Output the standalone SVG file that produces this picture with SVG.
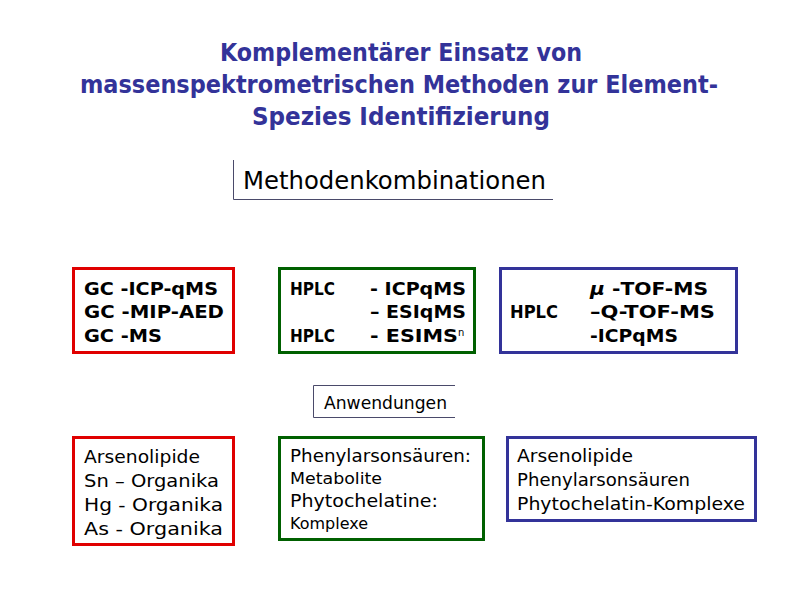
<svg xmlns="http://www.w3.org/2000/svg" width="800" height="598" viewBox="0 0 800 598">
<style>
text{font-family:"DejaVu Sans","Liberation Sans",sans-serif}
.title{fill:#333399;font-size:24px;font-weight:bold;text-anchor:middle}
.head{fill:#000;font-size:24px}
.b{fill:#000;font-size:18px;font-weight:bold}
.n{fill:#000;font-size:18px}
.s{fill:#000;font-size:15px}
.red{fill:#fff;stroke:#e00000;stroke-width:3}
.green{fill:#fff;stroke:#006000;stroke-width:3}
.blue{fill:#fff;stroke:#333399;stroke-width:3}
.frame{fill:none;stroke:#4a4a6a;stroke-width:1}
</style>
<rect width="800" height="598" fill="#fff"/>
<g id="title">
<text class="title" x="401" y="61" textLength="362" lengthAdjust="spacingAndGlyphs">Komplementärer Einsatz von</text>
<text class="title" x="399" y="93" textLength="638" lengthAdjust="spacingAndGlyphs">massenspektrometrischen Methoden zur Element-</text>
<text class="title" x="401" y="125" textLength="298" lengthAdjust="spacingAndGlyphs">Spezies Identifizierung</text>
</g>
<g id="methodenkombinationen">
<path class="frame" d="M233.5 160 V199.5 H553"/>
<text class="head" x="243" y="189" textLength="303" lengthAdjust="spacingAndGlyphs">Methodenkombinationen</text>
</g>
<g id="gc-box">
<rect class="red" x="73.5" y="268.5" width="160" height="84"/>
<text class="b" x="84" y="295" textLength="134" lengthAdjust="spacingAndGlyphs">GC -ICP-qMS</text>
<text class="b" x="84" y="318" textLength="140" lengthAdjust="spacingAndGlyphs">GC -MIP-AED</text>
<text class="b" x="84" y="342" textLength="78" lengthAdjust="spacingAndGlyphs">GC -MS</text>
</g>
<g id="hplc-box">
<rect class="green" x="279.5" y="268.5" width="195" height="84"/>
<text class="b" x="290" y="295" textLength="45" lengthAdjust="spacingAndGlyphs">HPLC</text>
<text class="b" x="370" y="295" textLength="96" lengthAdjust="spacingAndGlyphs">- ICPqMS</text>
<text class="b" x="370" y="318" textLength="96" lengthAdjust="spacingAndGlyphs">– ESIqMS</text>
<text class="b" x="290" y="342" textLength="45" lengthAdjust="spacingAndGlyphs">HPLC</text>
<text class="b" x="370" y="342"><tspan textLength="88" lengthAdjust="spacingAndGlyphs">- ESIMS</tspan><tspan font-size="10" font-weight="normal" dy="-6">n</tspan></text>
</g>
<g id="tof-box">
<rect class="blue" x="500.5" y="268.5" width="236" height="84"/>
<text class="b" x="590" y="295" textLength="118" lengthAdjust="spacingAndGlyphs"><tspan font-style="italic">μ</tspan> -TOF-MS</text>
<text class="b" x="510" y="318" textLength="48" lengthAdjust="spacingAndGlyphs">HPLC</text>
<text class="b" x="590" y="318" textLength="125" lengthAdjust="spacingAndGlyphs">–Q-TOF-MS</text>
<text class="b" x="590" y="342" textLength="88" lengthAdjust="spacingAndGlyphs">-ICPqMS</text>
</g>
<g id="anwendungen">
<path class="frame" d="M455 385.5 H313.5 V417.5 H455"/>
<text class="n" x="324" y="409" textLength="123" lengthAdjust="spacingAndGlyphs">Anwendungen</text>
</g>
<g id="organika-box">
<rect class="red" x="73.5" y="437.5" width="160" height="107"/>
<text class="n" x="84" y="463" textLength="116" lengthAdjust="spacingAndGlyphs">Arsenolipide</text>
<text class="n" x="84" y="487" textLength="135" lengthAdjust="spacingAndGlyphs">Sn – Organika</text>
<text class="n" x="84" y="511" textLength="139" lengthAdjust="spacingAndGlyphs">Hg - Organika</text>
<text class="n" x="84" y="535" textLength="139" lengthAdjust="spacingAndGlyphs">As - Organika</text>
</g>
<g id="phenyl-box">
<rect class="green" x="279.5" y="437.5" width="204" height="102"/>
<text class="n" x="290" y="462" textLength="181" lengthAdjust="spacingAndGlyphs">Phenylarsonsäuren:</text>
<text class="s" x="290" y="484" textLength="92" lengthAdjust="spacingAndGlyphs">Metabolite</text>
<text class="n" x="290" y="507" textLength="148" lengthAdjust="spacingAndGlyphs">Phytochelatine:</text>
<text class="s" x="290" y="529" textLength="78" lengthAdjust="spacingAndGlyphs">Komplexe</text>
</g>
<g id="komplexe-box">
<rect class="blue" x="507.5" y="437.5" width="248" height="83"/>
<text class="n" x="517" y="462" textLength="116" lengthAdjust="spacingAndGlyphs">Arsenolipide</text>
<text class="n" x="517" y="486" textLength="173" lengthAdjust="spacingAndGlyphs">Phenylarsonsäuren</text>
<text class="n" x="517" y="510" textLength="228" lengthAdjust="spacingAndGlyphs">Phytochelatin-Komplexe</text>
</g>
</svg>
